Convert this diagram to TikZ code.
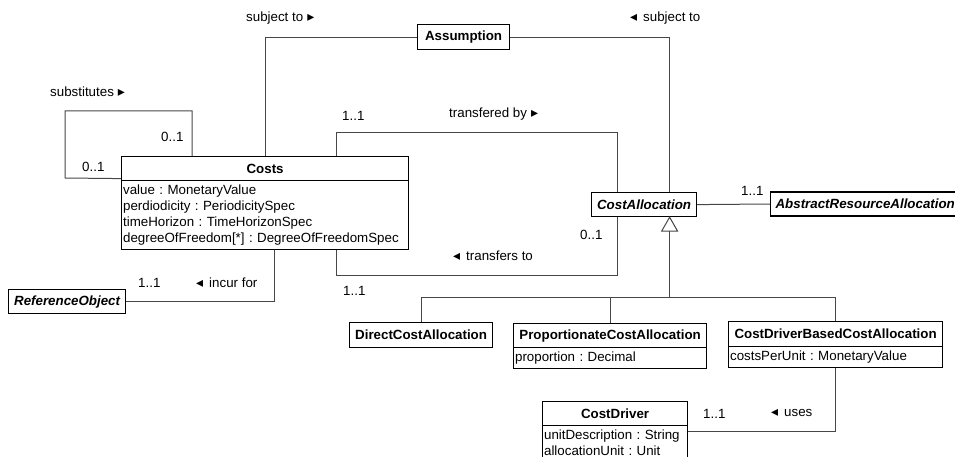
\documentclass[tikz,border=0pt]{standalone}
\usepackage{fontspec}
\setmainfont{Liberation Sans}
\newfontfamily\symfont{DejaVu Sans}
% small filled reading-direction triangles
\newcommand\dirR{\hspace{4pt}{\symfont\fontsize{14}{14}\selectfont ▸}}
\newcommand\dirL{{\symfont\fontsize{14}{14}\selectfont ◂}\hspace{6pt}}
\frenchspacing
\begin{document}
\begin{tikzpicture}[x=1pt, y=-1pt,
  font=\fontsize{13.33}{16}\selectfont,
  cls/.style={draw=black, line width=1.2pt, inner sep=0pt, anchor=north west, font=\fontsize{13.33}{16}\selectfont\bfseries},
  acls/.style={cls, font=\fontsize{13.33}{16}\selectfont\bfseries\itshape},
  attr/.style={draw=black, line width=1.2pt, anchor=north west, inner xsep=1.5pt, inner ysep=0pt, align=left},
  link/.style={draw=black!72, line width=1pt},
  lbl/.style={anchor=west, inner sep=0pt}]
\useasboundingbox (0,0) rectangle (955,457);

% classes
\node[cls, minimum width=92, minimum height=25] (assumption) at (417,24) {Assumption};
\node[cls, minimum width=287, minimum height=24] (costs) at (121,156) {Costs};
\node[attr, minimum width=287, minimum height=69, text width=284] (costsattr) at (121,180)
  {\mbox{value : MonetaryValue}\\\mbox{perdiodicity : PeriodicitySpec}\\\mbox{timeHorizon : TimeHorizonSpec}\\\mbox{degreeOfFreedom[*] : DegreeOfFreedomSpec}};
\node[acls, minimum width=105, minimum height=24] (costalloc) at (591,192) {CostAllocation};
\node[acls, anchor=west, inner xsep=5pt, minimum height=24] (abstract) at (770,204) {AbstractResourceAllocation};
\node[acls, minimum width=117, minimum height=24] (refobj) at (8,289) {ReferenceObject};
\node[cls, minimum width=143, minimum height=25] (direct) at (349,322) {DirectCostAllocation};
\node[cls, minimum width=193, minimum height=24] (prop) at (513,323) {ProportionateCostAllocation};
\node[attr, minimum width=193, minimum height=21, text width=190] (propattr) at (513,347) {\mbox{proportion : Decimal}};
\node[cls, minimum width=214, minimum height=25] (cdb) at (728,321) {CostDriverBasedCostAllocation};
\node[attr, minimum width=214, minimum height=21, text width=211] (cdbattr) at (728,346) {\mbox{costsPerUnit : MonetaryValue}};
\node[cls, minimum width=145, minimum height=24] (cdriver) at (542,401) {CostDriver};
\node[attr, minimum width=145, minimum height=35, text width=142] (cdriverattr) at (542,425)
  {\mbox{unitDescription : String}\\\mbox{allocationUnit : Unit}};

% associations
\draw[link] (assumption.west) -| (costs.north);
\draw[link] (assumption.east) -| ([xshift=25.5pt]costalloc.north);
\draw[link] ([xshift=71pt]costs.north west) -- ++(0,-45) -- ++(-127,0) -- ++(0,67) -- ([yshift=-10pt]costs.west);
\draw[link] ([xshift=71.5pt]costs.north) -- ++(0,-23) -| ([xshift=-26.5pt]costalloc.north);
\draw[link] ([xshift=71.5pt]costsattr.south) -- ++(0,25) -| ([xshift=-26.5pt]costalloc.south);
\draw[link] ([xshift=9.5pt]costsattr.south) |- (refobj.east);
\draw[link] (costalloc.east) -- (abstract.west);
\draw[link] (cdbattr.south) |- ([yshift=-6pt]cdriverattr.north east);

% generalization
\coordinate (gtip) at ([xshift=25.5pt]costalloc.south);
\coordinate (gbase) at ([yshift=-14pt]gtip);
\coordinate (gj) at ([yshift=-80pt]gtip);
\draw[link, fill=white] (gtip) -- ++(-8,14) -- ++(16,0) -- cycle;
\draw[link] (gbase) -- (gj);
\draw[link] (gj) -| (direct.north);
\draw[link] (gj) -| (prop.north);
\draw[link] (gj) -| (cdb.north);

% role names and multiplicities
\node[lbl] (l1) at (50,92) {substitutes\dirR};
\node[lbl] (l2) at (161,137) {0..1};
\node[lbl] (l3) at (82,167) {0..1};
\node[lbl] (l4) at (246,18) {subject to\dirR};
\node[lbl] (l5) at (630,18) {\dirL subject to};
\node[lbl] (l6) at (342,116) {1..1};
\node[lbl] (l7) at (449,114) {transfered by\dirR};
\node[lbl] (l8) at (580,235) {0..1};
\node[lbl] (l9) at (453,256) {\dirL transfers to};
\node[lbl] (l10) at (343,291) {1..1};
\node[lbl] (l11) at (138,283) {1..1};
\node[lbl] (l12) at (196,283) {\dirL incur for};
\node[lbl] (l13) at (741,191) {1..1};
\node[lbl] (l14) at (703,414) {1..1};
\node[lbl] (l15) at (771,413) {\dirL uses};
\end{tikzpicture}
\end{document}
